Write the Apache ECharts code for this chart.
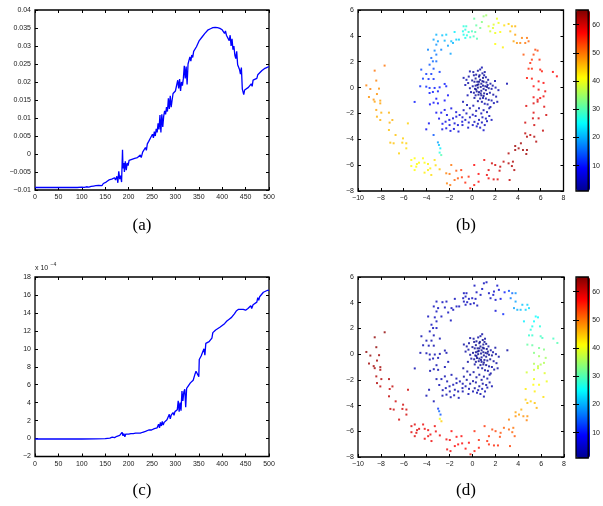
<!DOCTYPE html>
<html><head><meta charset="utf-8">
<script src="https://cdn.jsdelivr.net/npm/echarts@6/dist/echarts.min.js"></script>
<style>html,body{margin:0;padding:0;background:#fff}#c{width:603px;height:506px}</style>
</head><body><div id="c"></div>
<script>
// ---- panel (a) line: [iteration, value]
const lineA = [[0,-0.0093],[10,-0.0093],[20,-0.0093],[30,-0.0093],[33,-0.0091],[36,-0.0093],[50,-0.0093],[60,-0.0093],[70,-0.0093],[80,-0.0093],[90,-0.0093],[100,-0.0092],[105,-0.0093],[110,-0.0091],[115,-0.0092],[120,-0.0090],[125,-0.0089],[130,-0.0088],[133,-0.0090],[136,-0.0087],[140,-0.0086],[143,-0.0088],[146,-0.0082],[149,-0.0084],[152,-0.0078],[155,-0.0080],[158,-0.0072],[161,-0.0076],[164,-0.0070],[167,-0.0074],[170,-0.0066],[172,-0.0072],[175,-0.0062],[177,-0.0080],[179,-0.0048],[181,-0.0070],[183,-0.0060],[185,-0.0078],[187,0.0012],[188,-0.0040],[190,-0.0025],[191,-0.0050],[193,-0.0020],[195,-0.0045],[197,-0.0025],[199,-0.0032],[201,-0.0018],[204,-0.0022],[207,-0.0015],[210,-0.0018],[213,-0.0012],[216,-0.0016],[219,-0.0010],[222,-0.0013],[225,-0.0003],[227,-0.0010],[230,0.0005],[233,0.0010],[236,0.0018],[238,0.0010],[240,0.0028],[243,0.0035],[245,0.0030],[247,0.0045],[249,0.0040],[251,0.0055],[253,0.0045],[255,0.0062],[257,0.0050],[259,0.0070],[261,0.0060],[263,0.0085],[265,0.0068],[267,0.0108],[269,0.0060],[271,0.0110],[273,0.0075],[275,0.0105],[277,0.0120],[279,0.0110],[281,0.0130],[283,0.0118],[285,0.0155],[287,0.0125],[289,0.0162],[291,0.0130],[293,0.0150],[295,0.0168],[297,0.0172],[300,0.0175],[303,0.0178],[305,0.0205],[307,0.0182],[309,0.0208],[311,0.0175],[313,0.0200],[315,0.0190],[317,0.0210],[319,0.0245],[321,0.0210],[323,0.0243],[325,0.0193],[327,0.0250],[329,0.0245],[331,0.0270],[333,0.0258],[335,0.0275],[337,0.0268],[339,0.0285],[341,0.0280],[343,0.0290],[345,0.0298],[348,0.0302],[351,0.0315],[354,0.0318],[357,0.0325],[360,0.0330],[363,0.0335],[366,0.0340],[370,0.0345],[375,0.0348],[380,0.0351],[385,0.0352],[390,0.0351],[395,0.0349],[400,0.0345],[403,0.0342],[405,0.0335],[407,0.0342],[409,0.0330],[411,0.0335],[413,0.0325],[415,0.0315],[417,0.0330],[419,0.0300],[421,0.0320],[423,0.0290],[425,0.0300],[427,0.0275],[429,0.0265],[431,0.0285],[433,0.0248],[435,0.0245],[437,0.0235],[439,0.0222],[441,0.0240],[443,0.0180],[445,0.0175],[446,0.0165],[448,0.0178],[452,0.0180],[456,0.0185],[458,0.0190],[460,0.0185],[462,0.0195],[464,0.0188],[466,0.0205],[470,0.0208],[474,0.0210],[476,0.0220],[480,0.0225],[485,0.0232],[490,0.0237],[495,0.0240],[500,0.0243]];

// ---- panel (c) line: [iteration, value in units of 1e-4]
const lineC = [[0,-0.05],[50,-0.05],[100,-0.05],[130,-0.04],[150,0.0],[160,0.05],[165,0.15],[170,0.1],[175,0.25],[178,0.1],[181,0.35],[184,0.15],[186,0.7],[188,0.3],[190,0.55],[192,0.2],[194,0.5],[196,0.3],[198,0.55],[200,0.5],[205,0.55],[210,0.55],[215,0.6],[220,0.6],[225,0.6],[230,0.7],[233,0.65],[236,0.8],[240,0.85],[243,0.95],[246,1.05],[249,0.95],[252,1.15],[255,1.1],[258,1.3],[261,1.2],[264,1.6],[266,1.2],[268,1.8],[270,1.4],[272,1.9],[274,1.5],[276,1.8],[279,1.9],[282,2.1],[285,2.2],[287,2.7],[289,2.2],[291,2.6],[293,2.4],[295,2.9],[297,2.6],[299,3.0],[302,3.0],[304,3.2],[306,4.2],[308,3.0],[310,4.0],[312,3.1],[314,5.3],[316,4.2],[318,5.2],[320,5.5],[322,3.5],[324,5.6],[326,5.6],[328,5.9],[330,5.8],[332,6.2],[334,6.1],[336,6.4],[338,6.5],[340,6.6],[342,7.2],[344,7.5],[346,7.4],[348,7.6],[350,6.9],[351,8.8],[353,9.0],[355,9.2],[357,9.1],[359,9.3],[361,10.0],[363,9.3],[365,10.6],[367,10.4],[369,10.7],[372,10.8],[375,11.0],[378,11.2],[380,11.8],[383,12.0],[386,12.1],[390,12.2],[395,12.4],[400,12.6],[405,12.8],[410,13.1],[415,13.3],[418,13.1],[420,13.5],[423,13.3],[426,13.9],[430,14.2],[435,14.4],[440,14.4],[445,14.4],[450,14.3],[455,14.5],[458,14.5],[461,14.8],[463,14.5],[466,14.9],[470,15.1],[474,15.2],[476,15.7],[478,15.4],[480,15.8],[484,16.0],[488,16.3],[492,16.4],[496,16.5],[500,16.5]];

// ---- panels (b) and (d): [x, y, colour value in (b), colour value in (d)]
const spiralPoints = [
[-0.75,0.75,3,2],[-0.5,0.6,3,2],[-0.3,0.85,2,2],[-0.2,1.25,3,2],[0.1,1.2,2,2],[0.35,1.0,2,1],[0.5,1.3,2,2],[0.7,1.4,2,2],[0.85,1.55,3,2],[0.9,1.1,2,1],[1.1,1.2,2,2],[0.6,0.85,1,1],[0.3,0.7,1,1],[0.0,0.55,2,1],[-0.35,0.35,2,2],[-0.6,0.2,3,2],[0.2,0.45,1,1],[0.45,0.45,1,1],[0.7,0.6,1,1],[0.95,0.75,1,1],[1.2,0.8,2,1],[1.4,0.6,2,2],[1.25,0.4,1,1],[1.0,0.45,1,1],[0.8,0.3,1,1],[0.55,0.25,1,1],[0.3,0.15,1,1],[0.05,0.1,2,1],[-0.2,-0.05,2,2],[0.25,-0.1,1,1],[0.5,0.0,1,1],[0.75,0.05,1,1],[0.95,0.15,1,1],[1.15,0.1,1,1],[1.35,0.2,2,1],[1.6,0.3,2,2],[1.8,0.15,2,2],[2.05,0.0,3,2],[2.3,-0.2,3,2],[1.7,-0.1,2,1],[1.45,-0.05,1,1],[1.2,-0.2,1,1],[1.0,-0.1,1,1],[0.8,-0.25,1,1],[0.6,-0.35,1,1],[0.4,-0.3,1,1],[0.15,-0.4,2,1],[-0.1,-0.35,2,2],[0.3,-0.6,2,1],[0.55,-0.55,1,1],[0.8,-0.6,1,1],[1.05,-0.45,1,1],[1.3,-0.5,2,1],[1.55,-0.4,2,1],[1.85,-0.55,2,2],[2.1,-0.7,3,2],[0.7,-0.85,2,1],[0.95,-0.8,2,1],[1.2,-0.85,2,1],[1.45,-0.95,2,2],[1.7,-1.0,3,2],[0.5,-1.05,2,2],[0.85,-1.1,2,2],[1.1,-1.25,3,2],[1.35,-1.3,3,2],[1.6,-1.5,3,2],[1.9,-1.2,3,2],[2.2,-1.1,3,2],[0.2,-0.8,2,2],[-0.4,-0.6,3,2],[-0.8,-1.1,3,2],[3.05,0.3,3,2],[0.65,0.95,1,1],[1.05,0.95,2,1],[0.45,0.2,1,1],[0.9,0.5,1,1],[1.3,0.05,1,1],[0.35,-0.15,1,1],[0.75,-0.45,1,1],[1.0,-0.65,1,1],[0.6,0.45,1,1],[0.15,0.95,2,1],[2.0,0.5,3,2],
[-0.45,-1.35,3,2],[-0.75,-1.75,4,2],[-0.2,-1.6,3,2],[0.1,-1.4,3,2],[0.35,-1.8,3,2],[0.6,-1.6,3,2],[0.8,-2.0,4,2],[1.0,-1.75,3,2],[1.3,-1.9,3,2],[1.5,-2.2,4,2],[1.2,-2.4,4,2],[0.9,-2.3,4,2],[0.6,-2.5,4,2],[0.3,-2.2,4,2],[0.05,-2.1,4,2],[-0.2,-2.3,4,2],[-0.5,-2.0,4,2],[0.2,-2.65,4,2],[0.5,-2.8,4,3],[0.85,-2.7,4,3],[1.1,-2.9,4,3],[1.3,-2.6,4,3],[0.7,-3.1,5,3],[0.4,-3.0,5,3],[0.05,-2.9,5,3],[-0.3,-2.7,5,3],[-0.6,-2.5,5,3],[-0.85,-2.3,5,3],[-0.35,-3.1,5,3],[-0.85,-2.9,5,3],[1.0,-3.3,5,3],[1.5,-1.6,3,2],[1.7,-2.5,4,3],
[-1.1,-2.12,6,3],[-1.39,-2.25,6,3],[-1.68,-2.38,6,3],[-1.83,-1.61,7,3],[-2.21,-2.12,7,3],[-2.41,-1.73,8,3],[-2.71,-1.94,8,3],[-3.14,-1.94,8,3],[-3.0,-1.22,9,3],[-3.38,-1.17,9,3],[-2.33,-2.64,7,3],[-1.98,-2.9,7,3],[-1.54,-2.77,6,3],[-1.25,-2.9,6,3],[-0.87,-2.64,6,3],[-2.62,-3.23,7,3],[-2.27,-3.15,7,3],[-3.79,-2.77,8,3],[-4.02,-3.23,8,3],[-1.6,-3.2,6,3],[-1.9,-3.35,7,3],[-1.2,-3.4,6,3],[-2.0,-2.5,7,3],[-2.6,-2.8,8,3],[-1.4,-1.9,6,3],[-3.7,-1.3,9,3],[-2.9,-2.4,8,3],[-5.04,-1.11,10,3],
[-2.12,-0.6,9,3],[-3.14,-0.86,9,3],[-2.41,-1.0,9,3],[-3.73,-0.42,10,3],[-3.44,-0.34,10,3],[-3.0,-0.29,10,3],[-4.55,0.10,11,3],[-4.02,0.07,11,3],[-3.73,-0.03,11,3],[-3.29,-0.03,10,3],[-2.85,0.02,10,3],[-2.41,0.28,10,3],[-2.27,0.10,10,3],[-3.82,0.66,11,3],[-3.38,0.66,11,3],[-4.31,0.69,12,3],[-4.02,1.05,12,3],[-3.58,1.05,12,3],[-4.46,1.39,13,3],[-3.38,1.46,13,3],[-2.85,1.21,12,3],[-3.73,1.77,14,4],[-3.44,2.03,15,4],[-3.14,2.03,15,4],[-3.58,2.29,15,4],[-3.87,2.93,17,4],[-3.29,2.86,17,4],[-2.71,2.93,17,4],[-3.14,2.55,16,4],[-1.89,2.62,19,4],[-3.14,3.32,18,4],[-2.12,3.24,19,4],[-1.68,3.45,20,4],[-3.0,3.58,19,4],[-2.41,3.63,20,4],[-1.83,3.58,21,4],[-3.38,3.71,19,4],[-1.39,3.71,22,4],[-1.16,3.71,22,4],[-3.14,4.09,20,4],[-2.62,4.04,21,4],[-2.27,4.09,22,4],[-1.54,4.30,24,4],
[-0.75,4.74,27,4],[-0.52,4.74,28,4],[-0.6,4.48,27,4],[-0.31,4.3,28,4],[-0.75,4.09,26,4],[-0.46,4.04,27,4],[-0.02,4.35,29,4],[0.27,4.3,30,4],[0.36,4.81,31,4],[0.18,5.33,31,4],[0.71,4.61,32,4],[0.85,5.07,33,4],[1.0,5.51,34,4],[1.23,5.59,35,4],[-0.17,3.89,28,4],[0.42,3.78,30,4],[0.13,3.96,29,4],[-0.6,3.84,26,4],[-0.81,4.35,26,4],
[1.44,4.74,38,4],[1.88,4.87,39,5],[2.17,5.33,40,5],[2.31,5.0,40,6],[2.02,4.22,40,5],[1.58,4.35,38,4],[1.82,4.61,39,5],[2.46,4.3,41,7],[2.81,4.81,43,10],[3.19,4.92,44,13],[3.48,4.74,45,15],[3.34,4.35,45,16],[3.77,4.74,46,18],[2.02,3.37,41,6],[2.69,3.11,42,11],[3.63,3.58,47,19],
[3.77,4.09,47,19],[4.36,3.84,49,21],[4.8,3.84,50,22],[4.65,3.45,50,22],[4.94,3.58,51,23],[3.92,3.45,48,20],[4.21,3.45,49,21],[5.53,2.93,53,25],[5.73,2.86,53,25],[4.5,2.55,52,24],[5.38,2.55,53,25],[5.23,2.16,54,26],[5.09,1.9,55,27],[5.9,2.16,55,27],[4.94,1.46,55,28],[5.23,1.46,55,28],[5.96,1.39,56,29],[6.11,1.26,56,29],[7.07,1.21,57,29],[7.42,0.87,57,30],[4.8,0.74,56,31],[5.23,0.69,56,31],[5.82,0.48,57,32],[5.38,0.1,57,33],[6.25,0.36,57,33],[5.82,-0.16,58,35],[6.4,-0.29,58,35],[5.38,-0.75,58,36],[5.96,-0.81,58,36],[6.25,-0.68,58,36],[5.73,-0.94,58,37],
[4.74,-1.42,59,38],[5.38,-1.22,59,38],[5.73,-1.09,59,38],[6.31,-1.48,59,39],[5.38,-1.94,59,40],[5.32,-2.38,60,41],[5.82,-2.38,60,41],[5.44,-2.9,60,42],[6.49,-2.12,60,40],[6.2,-3.33,61,43],[4.65,-2.71,60,42],[4.65,-3.54,61,44],[5.09,-3.67,61,44],[4.8,-3.8,62,45],[5.44,-3.8,62,45],[5.61,-4.18,62,46],[4.27,-4.31,63,46],[3.77,-4.52,63,47],[4.07,-4.7,63,47],[4.45,-4.83,63,48],[4.8,-4.83,63,48],[3.77,-4.83,63,48],[4.74,-5.14,63,49],[3.19,-5.09,62,49],[3.57,-5.73,62,50],[3.19,-5.86,62,51],[2.75,-5.73,61,51],[3.48,-6.07,62,51],[3.69,-6.38,62,52],[2.46,-6.12,61,52],[2.02,-5.99,60,53],[1.73,-5.86,60,53],[1.44,-6.38,59,54],[2.40,-6.43,60,53],[1.06,-5.6,58,54],[0.18,-5.99,57,55],[0.56,-6.68,57,55],[1.29,-6.76,58,55],[1.88,-7.1,59,55],[2.23,-7.1,59,55],[3.28,-7.15,61,53],[1.44,-7.02,58,55],[-0.17,-7.79,56,56],[0.18,-7.54,56,56],[0.56,-7.28,57,56],[-0.6,-7.35,55,57],[-0.9,-6.94,54,57],[-0.31,-6.89,55,57],
[-2.27,-6.63,49,58],[-1.98,-6.68,50,58],[-1.39,-6.43,52,57],[-0.96,-6.38,54,57],[-1.83,-5.99,50,57],[-2.21,-7.41,49,58],[-1.92,-7.54,50,58],[-1.54,-7.15,51,57],[-1.25,-7.02,52,57],
[-5.33,-5.6,41,59],[-5.04,-5.47,41,59],[-4.84,-5.91,41,59],[-4.66,-5.81,41,59],[-4.31,-5.47,41,58],[-4.17,-5.81,41,58],[-3.87,-5.91,42,58],[-3.67,-6.25,42,58],[-3.29,-5.6,43,58],[-3.2,-6.01,43,58],[-3.87,-6.38,42,58],[-5.04,-6.38,41,59],[-4.9,-6.12,41,59],[-3.58,-6.76,43,58],[-4.17,-6.58,42,58],[-2.85,-6.32,45,58],[-5.33,-6.07,41,59],
[-3.38,-3.67,14,3],[-3.0,-4.24,19,12],[-2.91,-4.44,21,15],[-2.79,-4.7,24,14],[-2.85,-5.03,27,40],[-2.71,-5.22,30,44],
[-5.63,-2.77,44,60],[-8.54,-1.09,47,63],[-8.05,-1.22,47,62],[-8.4,-1.73,47,62],[-7.96,-1.94,46,62],[-7.29,-1.94,46,62],[-8.34,-2.25,46,62],[-8.05,-2.51,46,61],[-7.23,-2.71,46,61],[-6.99,-2.51,46,61],[-7.29,-3.28,45,61],[-6.71,-3.67,45,60],[-6.06,-3.93,44,60],[-6.12,-4.26,44,60],[-5.77,-4.31,44,60],[-5.77,-4.7,43,60],[-7.17,-4.26,45,61],[-6.88,-4.31,45,60],[-6.41,-5.09,44,60],
[-8.54,1.31,50,64],[-7.67,1.70,50,64],[-8.4,0.54,49,64],[-9.27,0.17,49,64],[-8.92,-0.11,49,64],[-8.16,-0.08,48,63],[-8.34,-0.5,48,63],[-9.04,-0.73,48,63],[-8.63,-0.93,48,63],[-8.05,-1.01,47,63]
];

// ---- tick labels
const lineXTicks = [0,50,100,150,200,250,300,350,400,450,500];
const lineAYTicks = [-0.01,-0.005,0,0.005,0.01,0.015,0.02,0.025,0.03,0.035,0.04];
const lineCYTicks = [-2,0,2,4,6,8,10,12,14,16,18];
const scatterXTicks = [-10,-8,-6,-4,-2,0,2,4,6,8];
const scatterYTicks = [-8,-6,-4,-2,0,2,4,6];
const colorbarTicks = [10,20,30,40,50,60];
const captions = ['(a)','(b)','(c)','(d)'];

const jet = ['#00008f','#0000ff','#0080ff','#00ffff','#80ff80','#ffff00','#ff8000','#ff0000','#800000'];
const FONT = 'Liberation Sans';
const fmt = v => String(v).replace('-', '\u2212');

function xPair(grid, min, max, ticks) {
  const base = {type:'value', gridIndex:grid, min:min, max:max, splitLine:{show:false}, axisLine:{show:false, onZero:false},
    axisTick:{inside:true, length:3, customValues:ticks, lineStyle:{color:'#000', width:1}}};
  return [
    Object.assign({}, base, {position:'bottom', axisLabel:{customValues:ticks, fontSize:7, fontFamily:FONT, color:'#1a1a1a', margin:4, formatter:fmt}}),
    Object.assign({}, base, {position:'top', axisLabel:{show:false}})
  ];
}
function yPair(grid, min, max, ticks) {
  const base = {type:'value', gridIndex:grid, min:min, max:max, splitLine:{show:false}, axisLine:{show:false, onZero:false},
    axisTick:{inside:true, length:3, customValues:ticks, lineStyle:{color:'#000', width:1}}};
  return [
    Object.assign({}, base, {position:'left', axisLabel:{customValues:ticks, fontSize:7, fontFamily:FONT, color:'#1a1a1a', margin:4, formatter:fmt}}),
    Object.assign({}, base, {position:'right', axisLabel:{show:false}})
  ];
}
function cbAxes(grid) {
  const base = {type:'value', gridIndex:grid, min:1, max:65.2, z:10, splitLine:{show:false}, axisLine:{show:false},
    axisTick:{inside:true, length:3, customValues:colorbarTicks, lineStyle:{color:'#000', width:1}}};
  return [
    Object.assign({}, base, {position:'right', axisLabel:{customValues:colorbarTicks, fontSize:7, fontFamily:FONT, color:'#1a1a1a', margin:4}}),
    Object.assign({}, base, {position:'left', axisLabel:{show:false}})
  ];
}
const gridStyle = {show:true, borderColor:'#000', borderWidth:1.3, backgroundColor:'transparent'};

const option = {
  animation:false,
  grid:[
    Object.assign({left:35, top:10, width:234, height:180}, gridStyle),
    Object.assign({left:358, top:10, width:205.5, height:181}, gridStyle),
    Object.assign({left:35, top:277, width:234, height:179.5}, gridStyle),
    Object.assign({left:358, top:277, width:206, height:180}, gridStyle),
    Object.assign({left:576, top:10, width:14, height:181, z:10}, gridStyle),
    Object.assign({left:576, top:277, width:14, height:181, z:10}, gridStyle)
  ],
  xAxis:[].concat(
    xPair(0,0,500,lineXTicks), xPair(1,-10,8,scatterXTicks), xPair(2,0,500,lineXTicks), xPair(3,-10,8,scatterXTicks),
    [{type:'value', gridIndex:4, min:0, max:1, show:false}, {type:'value', gridIndex:5, min:0, max:1, show:false}]
  ),
  yAxis:[].concat(
    yPair(0,-0.01,0.04,lineAYTicks), yPair(1,-8,6,scatterYTicks), yPair(2,-2,18,lineCYTicks), yPair(3,-8,6,scatterYTicks),
    cbAxes(4), cbAxes(5)
  ),
  visualMap:[
    {type:'continuous', seriesIndex:1, dimension:2, min:1, max:65, left:576, top:10, itemWidth:14, itemHeight:181, padding:0,
     calculable:false, hoverLink:false, inRange:{color:jet}},
    {type:'continuous', seriesIndex:3, dimension:3, min:1, max:65, left:576, top:277, itemWidth:14, itemHeight:181, padding:0,
     calculable:false, hoverLink:false, inRange:{color:jet}}
  ],
  series:[
    {type:'line', xAxisIndex:0, yAxisIndex:0, data:lineA, showSymbol:false, lineStyle:{color:'#0000ff', width:1.3}, silent:true},
    {type:'scatter', xAxisIndex:2, yAxisIndex:2, data:spiralPoints, encode:{x:0, y:1}, symbol:'rect', symbolSize:2, silent:true},
    {type:'line', xAxisIndex:4, yAxisIndex:4, data:lineC, showSymbol:false, lineStyle:{color:'#0000ff', width:1.3}, silent:true},
    {type:'scatter', xAxisIndex:6, yAxisIndex:6, data:spiralPoints, encode:{x:0, y:1}, symbol:'rect', symbolSize:2, silent:true}
  ],
  graphic:[
    {type:'text', left:35, top:265, style:{text:'x 10', font:'7px "Liberation Sans"', fill:'#1a1a1a'}},
    {type:'text', left:50.5, top:262, style:{text:'\u22124', font:'5px "Liberation Sans"', fill:'#1a1a1a'}},
    {type:'text', x:142, y:226, style:{text:captions[0], font:'17px "Liberation Serif"', fill:'#000', textAlign:'center', textVerticalAlign:'middle'}},
    {type:'text', x:466, y:226, style:{text:captions[1], font:'17px "Liberation Serif"', fill:'#000', textAlign:'center', textVerticalAlign:'middle'}},
    {type:'text', x:142, y:491, style:{text:captions[2], font:'17px "Liberation Serif"', fill:'#000', textAlign:'center', textVerticalAlign:'middle'}},
    {type:'text', x:466, y:491, style:{text:captions[3], font:'17px "Liberation Serif"', fill:'#000', textAlign:'center', textVerticalAlign:'middle'}}
  ]
};
const chart = echarts.init(document.getElementById('c'), null, {renderer:'canvas'});
chart.setOption(option);
</script>
</body></html>
